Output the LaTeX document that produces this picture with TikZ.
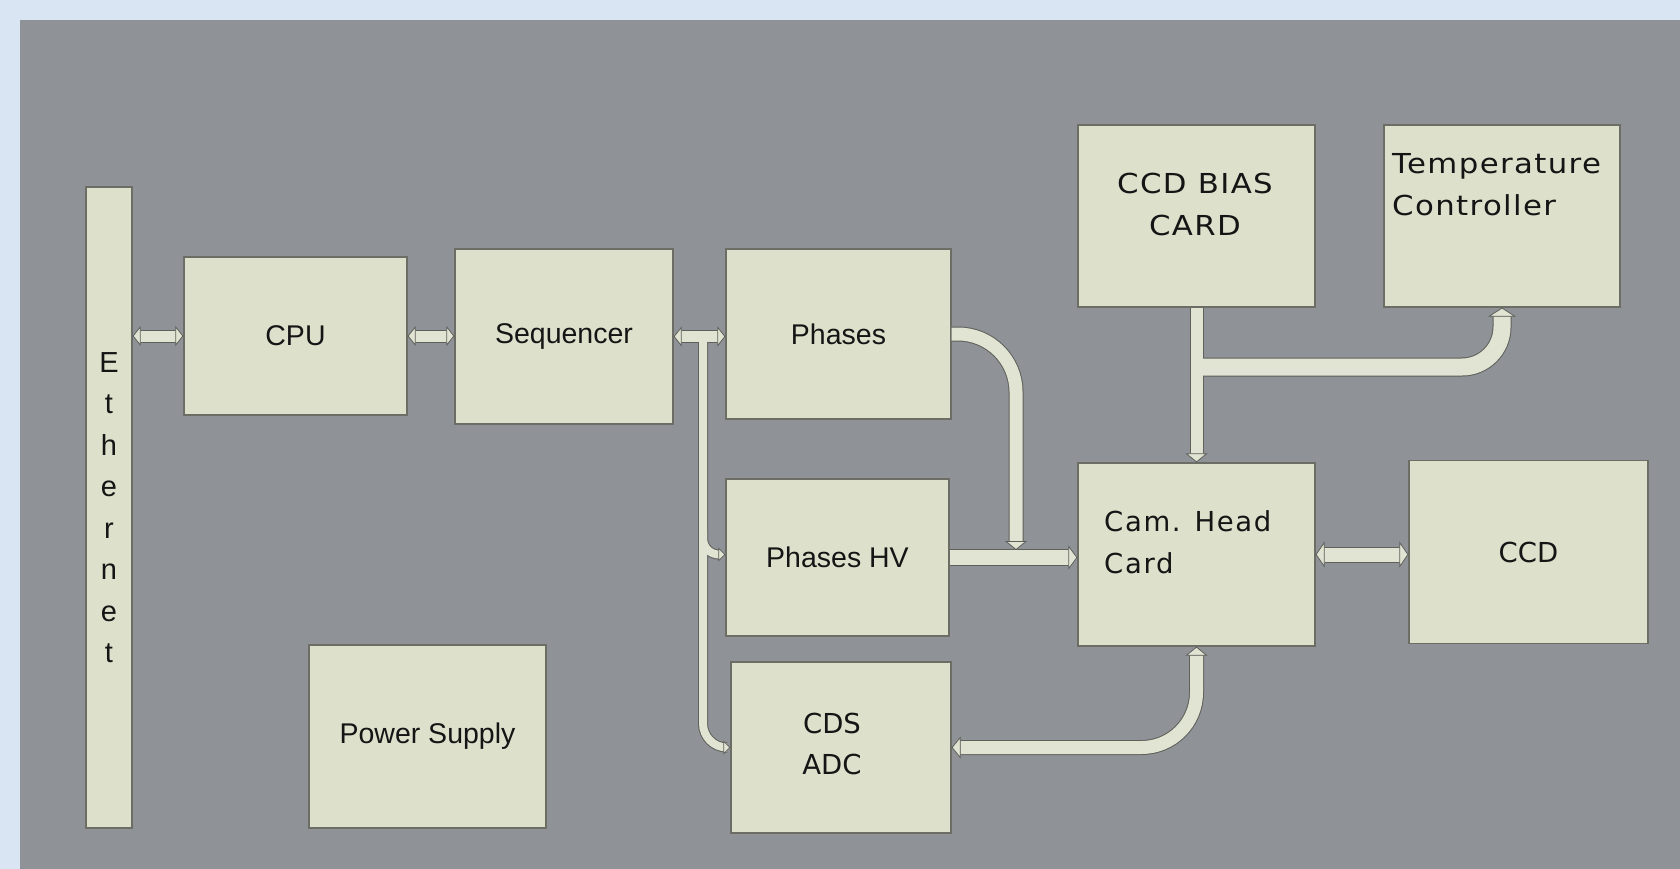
\documentclass[tikz,border=0pt]{standalone}
\usepackage{fontspec}
\setmainfont{Liberation Sans}
\newfontfamily\dvfont{DejaVu Sans}
\newfontfamily\dvwide[FakeStretch=1.12,LetterSpace=5]{DejaVu Sans}
\newfontfamily\dvmid[LetterSpace=6]{DejaVu Sans}
\usetikzlibrary{arrows.meta}
\definecolor{outerc}{HTML}{D9E5F3}
\definecolor{bgc}{HTML}{8F9297}
\definecolor{boxc}{HTML}{DDE1CC}
\definecolor{boxline}{HTML}{6C6E66}
\definecolor{bandc}{HTML}{E1E4D2}
\definecolor{outc}{HTML}{5E605A}
\definecolor{txtc}{HTML}{151515}
\pgfdeclarelayer{back}
\pgfdeclarelayer{outl}
\pgfsetlayers{back,outl,main}
\tikzset{
  box/.style={draw=boxline, fill=boxc, line width=1.2pt, inner sep=0pt, text=txtc,
              font=\fontsize{28.5}{34}\selectfont},
  lbl/.style={inner sep=0pt, text=txtc},
  bandout/.style={draw=outc, line cap=butt},
  bandin/.style={draw=bandc, line cap=butt},
  t14/.tip={Triangle[width=14pt,length=7pt,line width=0.8pt,color=outc,fill=bandc]},
  t20/.tip={Triangle[width=20pt,length=8pt,line width=0.8pt,color=outc,fill=bandc]},
  t22/.tip={Triangle[width=22pt,length=9pt,line width=0.8pt,color=outc,fill=bandc]},
  t24/.tip={Triangle[width=24pt,length=9pt,line width=0.8pt,color=outc,fill=bandc]},
  t26/.tip={Triangle[width=26pt,length=9pt,line width=0.8pt,color=outc,fill=bandc]},
  t28/.tip={Triangle[width=28pt,length=9pt,line width=0.8pt,color=outc,fill=bandc]},
}
\newcommand\conn[3]{%
  \begin{pgfonlayer}{outl}\draw[bandout,#1] #3;\end{pgfonlayer}%
  \draw[bandin,#2] #3;}
\begin{document}
\begin{tikzpicture}[x=1pt,y=-1pt]
\useasboundingbox (0,0) rectangle (1680,869);
\begin{pgfonlayer}{back}
  \fill[outerc] (0,0) rectangle (1680,869);
  \fill[bgc] (20,20) rectangle (1680,869);
\end{pgfonlayer}

% boxes
\node[box, minimum width=46pt, minimum height=641pt, align=center,
      font=\fontsize{29}{41.5}\selectfont] (eth) at (109,507.5) {E\\t\\h\\e\\r\\n\\e\\t};
\node[box, minimum width=223pt, minimum height=158pt] (cpu) at (295.5,336) {CPU};
\node[box, minimum width=218pt, minimum height=175pt] (seq) at (564,336.5) {Sequencer};
\node[box, minimum width=225pt, minimum height=170pt] (ph) at (838.5,334) {Phases};
\node[box, minimum width=223pt, minimum height=157pt] (phv) at (837.5,557.5) {Phases HV};
\node[box, minimum width=220pt, minimum height=171pt] (cds) at (841,747.5) {};
\node[box, minimum width=237pt, minimum height=183pt] (ps) at (427.5,736.5) {Power Supply};
\node[box, minimum width=237pt, minimum height=182pt] (bias) at (1196.5,216) {};
\node[box, minimum width=236pt, minimum height=182pt] (temp) at (1502,216) {};
\node[box, minimum width=237pt, minimum height=183pt] (cam) at (1196.5,554.5) {};
\node[box, minimum width=239pt, minimum height=183pt,
      font=\dvfont\fontsize{27.5}{34}\selectfont] (ccd) at (1528.5,552) {CCD};

% texts placed inside boxes
\node[lbl, anchor=north, align=center, font=\dvwide\fontsize{27.5}{42}\selectfont]
  (biast) at (1195,173) {CCD BIAS\\CARD};
\node[lbl, anchor=north west, align=left, font=\dvwide\fontsize{27.5}{42}\selectfont]
  (tempt) at (1392,153) {Temperature\\Controller};
\node[lbl, anchor=north west, align=left, font=\dvmid\fontsize{27.5}{42}\selectfont]
  (camt) at (1104,510) {Cam. Head\\Card};
\node[lbl, anchor=north, align=center, font=\dvfont\fontsize{27.5}{41}\selectfont]
  (cdst) at (832,713) {CDS\\ADC};

% junction points
\coordinate (trunk) at (703,336.5);
\coordinate (br) at (703,530);
\coordinate (pj) at (1016,550);
\coordinate (bj) at (1200,367);

% connectors
\conn{line width=13pt, shorten <=8pt, shorten >=8pt}{line width=11pt, t20-t20}
  {(eth.east |- cpu.west) -- (cpu.west)}
\conn{line width=13pt, shorten <=8pt, shorten >=8pt}{line width=11pt, t20-t20}
  {(cpu.east) -- (cpu.east -| seq.west)}
\conn{line width=13pt, shorten <=8pt, shorten >=8pt}{line width=11pt, t20-t20}
  {(seq.east) -- (seq.east -| ph.west)}
\conn{line width=10pt, shorten >=7pt}{line width=8pt, -t14}
  {(trunk) [rounded corners=24pt] |- (cds.west)}
\conn{line width=10pt, shorten >=7pt}{line width=8pt, -t14}
  {(br) [rounded corners=16pt] |- ([yshift=3pt]phv.west)}
\conn{line width=15pt, shorten >=9pt}{line width=13pt, -t22}
  {(ph.east) [rounded corners=58pt] -| (pj)}
\conn{line width=17pt, shorten >=9pt}{line width=15pt, -t24}
  {(phv.east) -- (phv.east -| cam.west)}
\conn{line width=14pt, shorten >=9pt}{line width=12pt, -t22}
  {(bias.south) -- (cam.north)}
\conn{line width=19pt, shorten >=9pt}{line width=17pt, -t28}
  {(bj) [rounded corners=40pt] -| (temp.south)}
\conn{line width=16pt, shorten <=9pt, shorten >=9pt}{line width=14pt, t26-t26}
  {(cam.east) -- (cam.east -| ccd.west)}
\conn{line width=15pt, shorten <=9pt, shorten >=9pt}{line width=13pt, t22-t22}
  {(cam.south) [rounded corners=55pt] |- (cds.east)}
\end{tikzpicture}
\end{document}
